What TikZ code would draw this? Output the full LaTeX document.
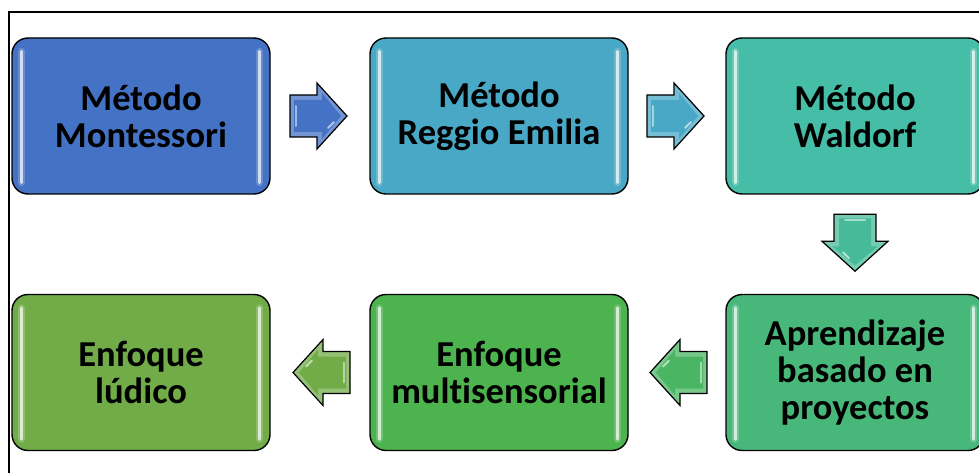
\documentclass[tikz,border=0pt]{standalone}
\usepackage{fontspec}
\setmainfont[Ligatures=NoCommon]{Carlito}
\usetikzlibrary{calc}
\definecolor{cA}{HTML}{4472C4}
\definecolor{cB}{HTML}{48A8C5}
\definecolor{cC}{HTML}{46BDA6}
\definecolor{cD}{HTML}{48B87A}
\definecolor{cE}{HTML}{4DB34F}
\definecolor{cF}{HTML}{71AC48}
\tikzset{
  box/.style={draw=black, line width=1.4pt, rounded corners=16pt,
    minimum width=258pt, minimum height=156pt, inner sep=0pt, align=center,
    font=\fontsize{36.5}{37}\selectfont\bfseries},
  glosslight/.style={white, line width=3pt, opacity=0.7, line cap=round},
  glosshalo/.style={white, line width=7pt, opacity=0.2, line cap=round},
  arrowoutline/.style={draw=black, line width=1.2pt, line join=miter},
}
\newcommand\glossbox[1]{%
  \draw[glosshalo] ($(#1.north west)+(10,14)$) -- ($(#1.south west)+(10,-12)$);
  \draw[glosshalo] ($(#1.north east)+(-11,14)$) -- ($(#1.south east)+(-11,-12)$);
  \draw[glosslight] ($(#1.north west)+(10,14)$) -- ($(#1.south west)+(10,-12)$);
  \draw[glosslight] ($(#1.north east)+(-11,14)$) -- ($(#1.south east)+(-11,-12)$);
}
% #1 = coordinate name, #2 = rotation, #3 = colour
\newcommand\blockarrow[3]{%
  \begin{scope}[shift={(#1)}, rotate=#2]
    \fill[#3!75!white] (-30,-21) -- (-3,-21) -- (-3,-33) -- (27,0) -- (-3,33) -- (-3,21) -- (-30,21) -- cycle;
    \fill[#3] (-26,-16) -- (2,-16) -- (2,-23) -- (21,0) -- (2,23) -- (2,16) -- (-26,16) -- cycle;
    \draw[arrowoutline] (-30,-21) -- (-3,-21) -- (-3,-33) -- (27,0) -- (-3,33) -- (-3,21) -- (-30,21) -- cycle;
    \draw[white, opacity=0.6, line width=2pt, line cap=round] (8,12) -- (14,6);
    \draw[white, opacity=0.5, line width=2pt, line cap=round] (-24,-10) -- (-24,10);
  \end{scope}
}
\begin{document}
\begin{tikzpicture}[x=1pt, y=-1pt]
  \useasboundingbox (0,0) rectangle (979,473);
  \clip (0,0) rectangle (979,473);
  \fill[white] (0,0) rectangle (979,473);
  \draw[line width=1.4pt] (9,480) -- (9,12) -- (985,12);

  \node[box, fill=cA] (b1) at (141,116) {Método\\Montessori};
  \node[box, fill=cB] (b2) at (499,116) {Método\\Reggio Emilia};
  \node[box, fill=cC] (b3) at (855,116) {Método\\Waldorf};
  \node[box, fill=cD] (b4) at (855,372.5) {Aprendizaje\\basado en\\proyectos};
  \node[box, fill=cE] (b5) at (499,372.5) {Enfoque\\multisensorial};
  \node[box, fill=cF] (b6) at (141,372.5) {Enfoque\\lúdico};

  \glossbox{b1}\glossbox{b2}\glossbox{b3}\glossbox{b4}\glossbox{b5}\glossbox{b6}

  \coordinate (a12) at ($(b1.east)!0.5!(b2.west)$);
  \coordinate (a23) at ($(b2.east)!0.5!(b3.west)$);
  \coordinate (a34) at ($(b3.south)!0.5!(b4.north)$);
  \coordinate (a45) at ($(b4.west)!0.5!(b5.east)$);
  \coordinate (a56) at ($(b5.west)!0.5!(b6.east)$);

  \blockarrow{a12}{0}{cA}
  \blockarrow{a23}{0}{cB}
  \blockarrow{a34}{-90}{cC!70!cD}
  \blockarrow{a45}{180}{cD!50!cE}
  \blockarrow{a56}{180}{cF}
\end{tikzpicture}
\end{document}
